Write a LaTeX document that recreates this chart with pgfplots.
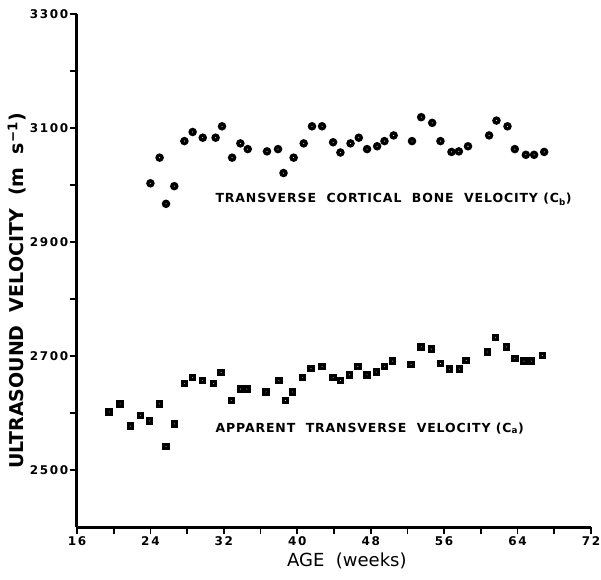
\documentclass[border=0pt]{standalone}
\usepackage{fontspec}
\setmainfont{DejaVu Sans}
\newfontfamily\tickfont[LetterSpace=14]{DejaVu Sans}
\newfontfamily\annfont[LetterSpace=7]{DejaVu Sans}
\usepackage{pgfplots}
\pgfplotsset{compat=1.18}

\pgfdeclareplotmark{dotcirc}{%
  \pgfpathcircle{\pgfpointorigin}{\pgfplotmarksize}%
  \pgfusepathqfill
  \begin{pgfscope}%
  \pgfsetfillcolor{white}%
  \pgfpathcircle{\pgfpointorigin}{0.12\pgfplotmarksize}%
  \pgfusepathqfill
  \end{pgfscope}}
\pgfdeclareplotmark{dotsq}{%
  \pgfpathrectangle{\pgfpoint{-\pgfplotmarksize}{-\pgfplotmarksize}}{\pgfpoint{2\pgfplotmarksize}{2\pgfplotmarksize}}%
  \pgfusepathqfill
  \begin{pgfscope}%
  \pgfsetfillcolor{white}%
  \pgfpathcircle{\pgfpointorigin}{0.12\pgfplotmarksize}%
  \pgfusepathqfill
  \end{pgfscope}}

\pgfplotstableread{
x y
24.0 3003
25.0 3048
25.7 2967
26.6 2998
27.7 3077
28.6 3093
29.7 3083
31.1 3083
31.8 3103
32.9 3048
33.8 3073
34.6 3063
36.7 3059
37.9 3063
38.5 3021
39.6 3048
40.7 3073
41.6 3103
42.7 3103
43.9 3075
44.7 3057
45.8 3073
46.7 3083
47.6 3063
48.7 3068
49.5 3077
50.5 3087
52.5 3077
53.5 3119
54.7 3109
55.6 3077
56.8 3058
57.6 3059
58.6 3068
60.9 3087
61.7 3113
62.9 3103
63.7 3063
64.9 3053
65.8 3053
66.9 3058
}\cortical

\pgfplotstableread{
x y
19.5 2602
20.7 2616
21.8 2577
22.9 2596
23.9 2586
25.0 2616
25.7 2541
26.6 2581
27.7 2652
28.6 2662
29.7 2657
30.9 2652
31.7 2671
32.8 2622
33.8 2642
34.5 2642
36.6 2637
38.0 2657
38.7 2622
39.5 2637
40.6 2662
41.5 2678
42.7 2682
43.9 2662
44.7 2657
45.7 2667
46.6 2682
47.6 2667
48.6 2672
49.5 2682
50.4 2691
52.4 2685
53.5 2716
54.6 2712
55.6 2687
56.6 2677
57.7 2677
58.4 2692
60.7 2707
61.6 2732
62.8 2716
63.7 2696
64.7 2691
65.5 2691
66.7 2701
}\apparent

\begin{document}
\begin{tikzpicture}
\begin{axis}[
  scale only axis, width=514pt, height=513pt,
  xmin=16, xmax=72, ymin=2400, ymax=3300,
  axis x line*=bottom, axis y line*=left,
  axis line style={line width=3pt,-},
  every outer x axis line/.append style={line width=3pt,-},
  every outer y axis line/.append style={line width=3pt,-},
  every inner x axis line/.append style={line width=3pt,-},
  every inner y axis line/.append style={line width=3pt,-},
  xtick={16,24,...,72}, minor xtick={20,28,...,68},
  ytick={2500,2700,...,3300}, minor ytick={2600,2800,3000,3200},
  tick align=outside, major tick length=7pt, minor tick length=7pt,
  every tick/.style={black, line width=1.6pt},
  tick label style={font=\tickfont\bfseries\fontsize{12}{13}\selectfont},
  /pgf/number format/assume math mode=true,
  /pgf/number format/set thousands separator={},
  xticklabel style={inner sep=1pt, yshift=-1pt},
  yticklabel style={inner sep=1.5pt},
  xlabel={AGE\ \ (weeks)},
  ylabel={ULTRASOUND\ \ VELOCITY\ \ (m\ \ s\textsuperscript{−1})},
  xlabel style={at={(axis description cs:0.525,-0.066)}, anchor=center, font=\fontsize{18}{20}\selectfont},
  ylabel style={at={(axis description cs:-0.117,0.46)}, anchor=center, font=\bfseries\fontsize{19}{21}\selectfont},
  clip=false,
]
\addplot[only marks, mark=dotcirc, mark size=4.3pt, black] table {\cortical};
\addplot[only marks, mark=dotsq, mark size=3.7pt, black] table {\apparent};
\node[anchor=west, font=\annfont\bfseries\fontsize{12.5}{13}\selectfont, inner sep=0pt] at (axis cs:31.07,2975) {TRANSVERSE\ \ CORTICAL\ \ BONE\ \ VELOCITY\ (C\textsubscript{b})};
\node[anchor=west, font=\annfont\bfseries\fontsize{12.5}{13}\selectfont, inner sep=0pt] at (axis cs:31.07,2573) {APPARENT\ \ TRANSVERSE\ \ VELOCITY\ (C\textsubscript{a})};
\coordinate (SW) at (rel axis cs:0,0);
\end{axis}
\pgfresetboundingbox
\path[use as bounding box] ([shift={(-77pt,-52pt)}]SW) rectangle ++(601pt,579pt);
\end{tikzpicture}
\end{document}
